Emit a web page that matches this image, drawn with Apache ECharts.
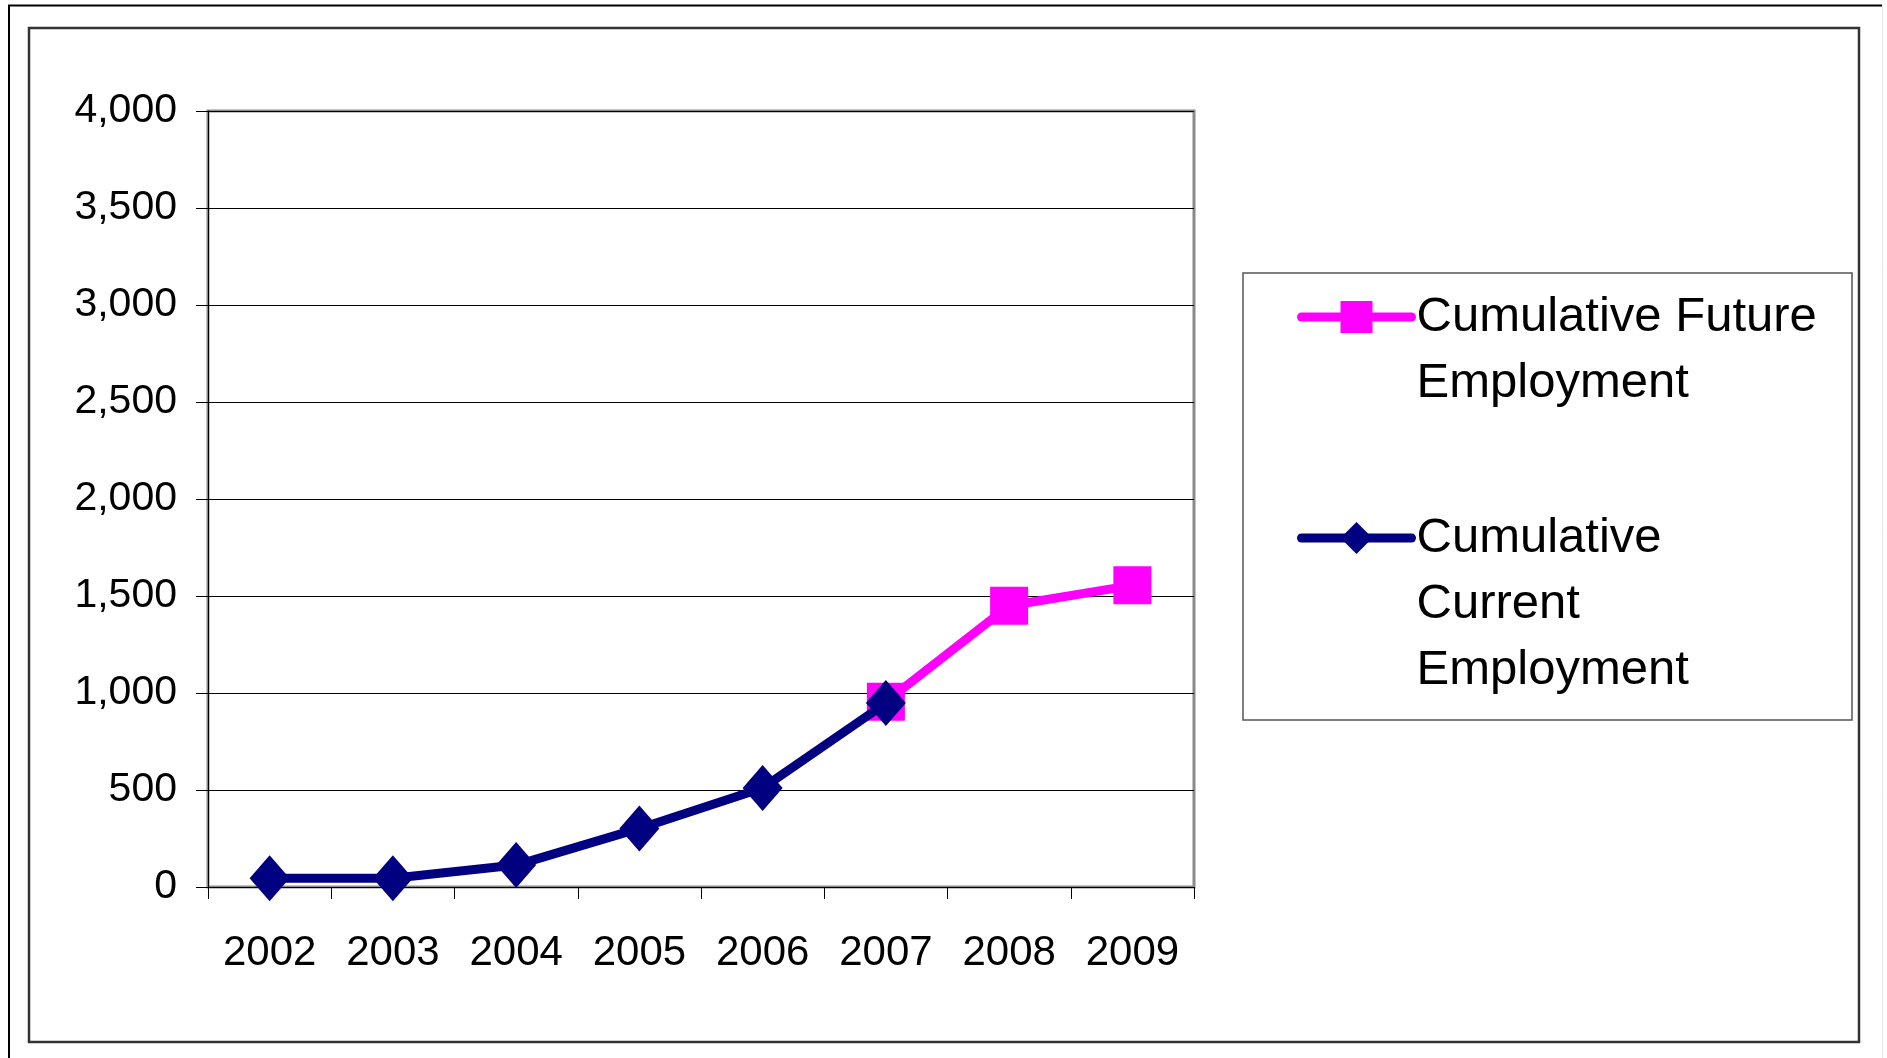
<!DOCTYPE html>
<html>
<head>
<meta charset="utf-8">
<script src="https://cdn.jsdelivr.net/npm/echarts@6/dist/echarts.min.js"></script>
<style>
  html, body { margin: 0; padding: 0; background: #ffffff; }
  #chart { width: 1887px; height: 1058px; }
</style>
</head>
<body>
<div id="chart"></div>
<script>
// ---- data ----
const years = ['2002', '2003', '2004', '2005', '2006', '2007', '2008', '2009'];
const futureEmployment = [null, null, null, null, null, 955, 1450, 1555];
const currentEmployment = [45, 45, 113, 302, 510, 948, null, null];
const futureName = 'Cumulative Future Employment';
const currentName = 'Cumulative Current Employment';
const futureLegendLines = ['', 'Cumulative Future', 'Employment'];
const currentLegendLines = ['', '', 'Cumulative', 'Current', 'Employment'];
const yMin = 0, yMax = 4000, yStep = 500;

const FONT = '"Liberation Sans", Arial, sans-serif';
const chart = echarts.init(document.getElementById('chart'));

const legendText = { color: '#000', fontSize: 49, lineHeight: 66, fontFamily: FONT };

chart.setOption({
  backgroundColor: '#ffffff',
  animation: false,
  graphic: [
    { type: 'line', shape: { x1: 8, y1: 5.5, x2: 1882, y2: 5.5 }, style: { stroke: '#000', lineWidth: 2 } },
    { type: 'line', shape: { x1: 9, y1: 5, x2: 9, y2: 1058 }, style: { stroke: '#000', lineWidth: 2 } },
    { type: 'line', shape: { x1: 1882.5, y1: 5, x2: 1882.5, y2: 1058 }, style: { stroke: '#e6e6e6', lineWidth: 1 } },
    { type: 'rect', shape: { x: 29, y: 28, width: 1830, height: 1014 }, style: { fill: 'none', stroke: '#333', lineWidth: 2.5 } },
    { type: 'rect', shape: { x: 1243, y: 273, width: 609, height: 447 }, style: { fill: 'none', stroke: '#555', lineWidth: 1.5 } }
  ],
  grid: {
    left: 208, right: 693, top: 111, bottom: 171,
    show: true, borderColor: '#8a8a8a', borderWidth: 3, backgroundColor: 'transparent'
  },
  legend: [
    {
      data: [futureName], orient: 'vertical', left: 1297, top: 218, padding: 0,
      itemWidth: 110, itemHeight: 40, selectedMode: false,
      lineStyle: { width: 9, cap: 'round' },
      formatter: () => futureLegendLines.join('\n'),
      textStyle: legendText
    },
    {
      data: [currentName], orient: 'vertical', left: 1297, top: 373, padding: 0,
      itemWidth: 110, itemHeight: 40, selectedMode: false,
      lineStyle: { width: 9, cap: 'round' },
      formatter: () => currentLegendLines.join('\n'),
      textStyle: legendText
    }
  ],
  xAxis: {
    type: 'category',
    data: years,
    boundaryGap: true,
    axisLine: { show: true, lineStyle: { color: '#000', width: 1 } },
    axisTick: { show: true, length: 12, lineStyle: { color: '#000', width: 1 } },
    axisLabel: { color: '#000', fontSize: 42, fontFamily: FONT, margin: 45 },
    splitLine: { show: false }
  },
  yAxis: {
    type: 'value',
    min: yMin, max: yMax, interval: yStep,
    axisLine: { show: true, lineStyle: { color: '#000', width: 1 } },
    axisTick: { show: true, length: 12, lineStyle: { color: '#000', width: 1 } },
    axisLabel: {
      color: '#000', fontSize: 41, fontFamily: FONT, margin: 31,
      formatter: v => v.toLocaleString('en-US')
    },
    splitLine: { show: true, lineStyle: { color: '#000', width: 1 } }
  },
  series: [
    {
      name: futureName,
      type: 'line',
      data: futureEmployment,
      symbol: 'rect',
      symbolSize: 38,
      connectNulls: false,
      lineStyle: { color: '#ff00ff', width: 9 },
      itemStyle: { color: '#ff00ff' },
      z: 2
    },
    {
      name: currentName,
      type: 'line',
      data: currentEmployment,
      symbol: 'diamond',
      symbolSize: [40, 46],
      connectNulls: false,
      lineStyle: { color: '#000080', width: 9 },
      itemStyle: { color: '#000080' },
      z: 3
    }
  ]
});
</script>
</body>
</html>
